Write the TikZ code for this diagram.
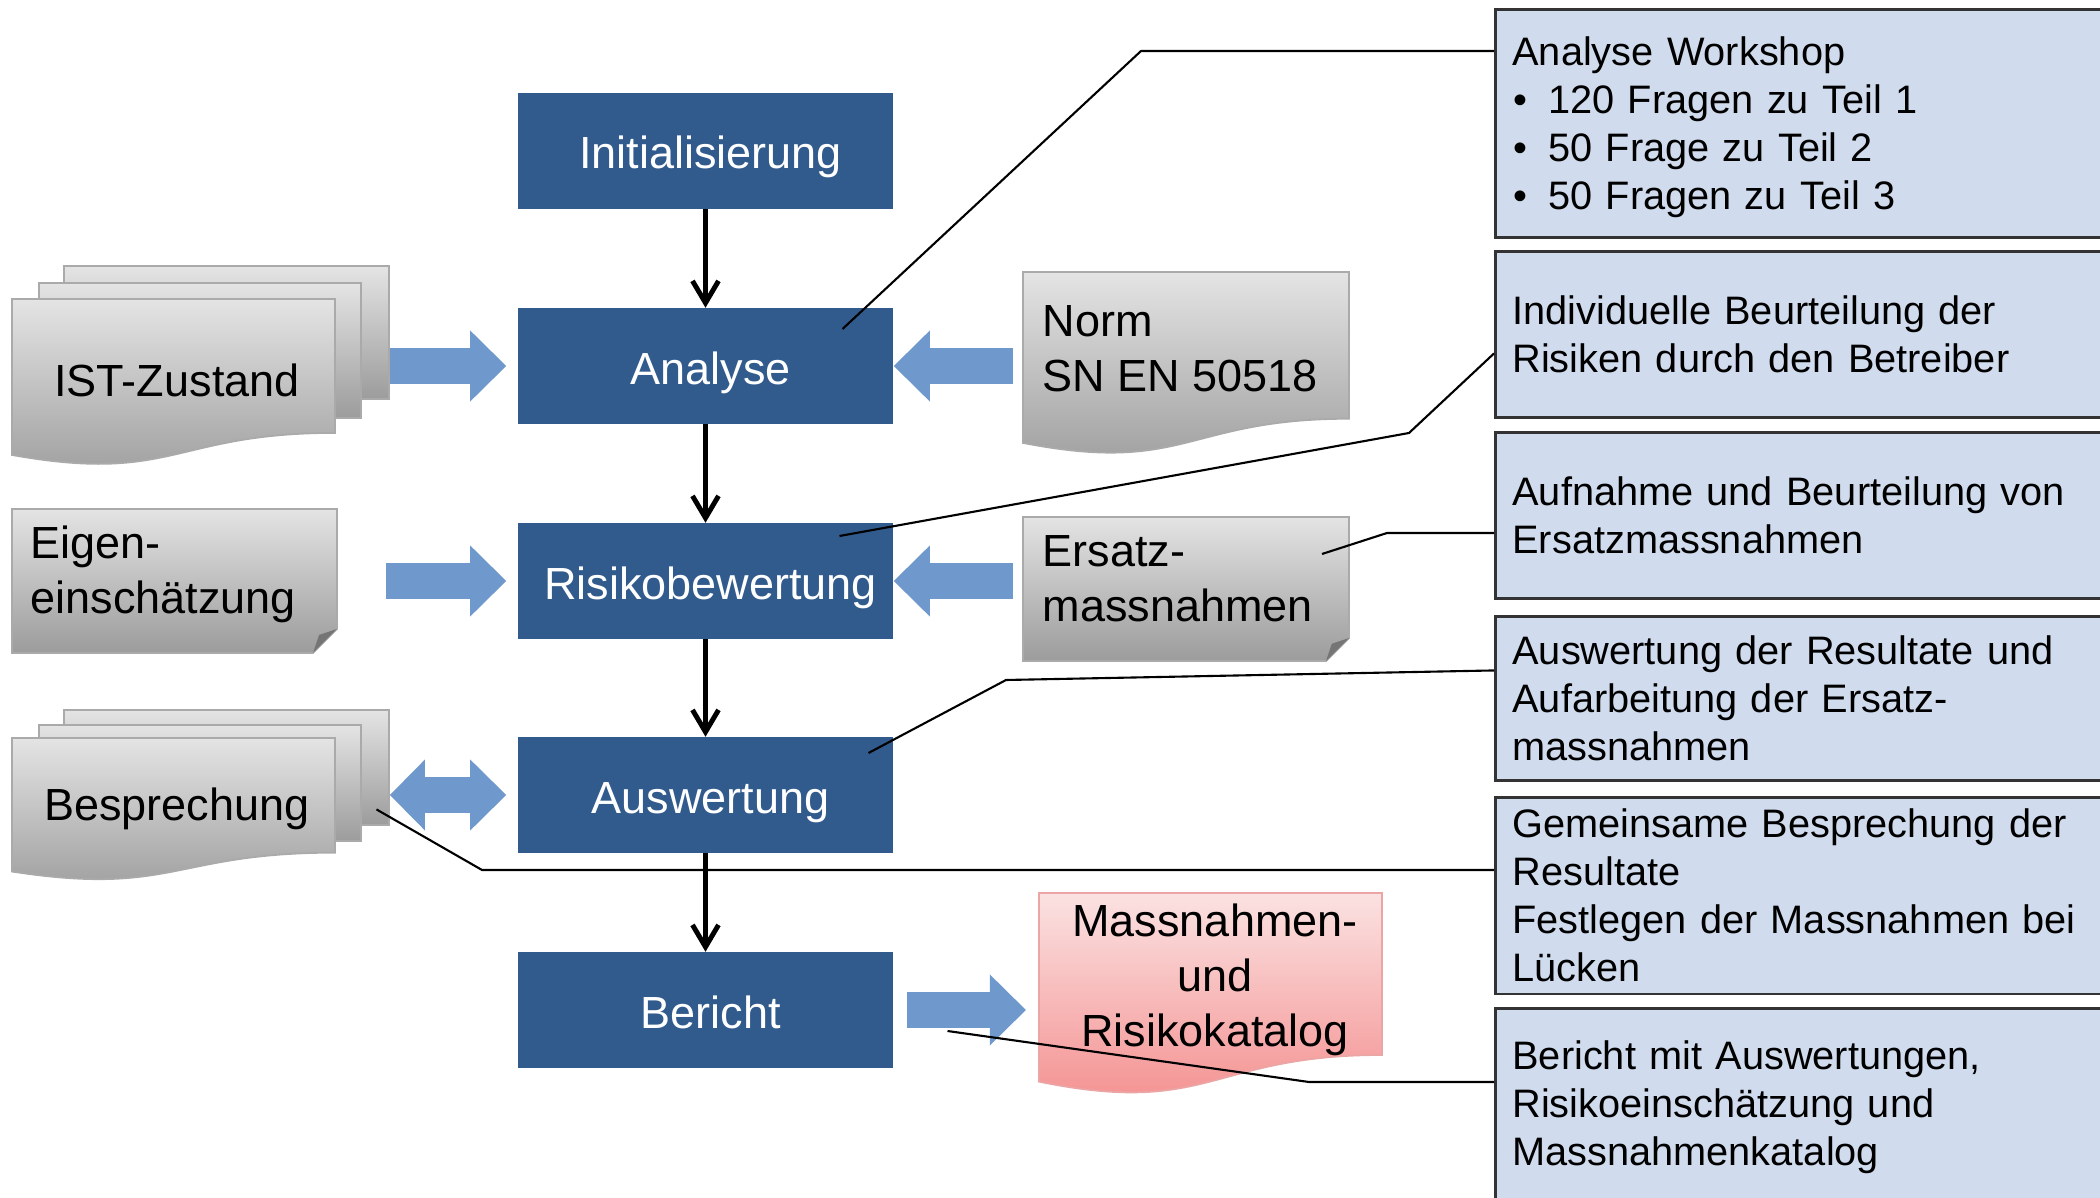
\documentclass[tikz,border=0pt]{standalone}
\usepackage{fontspec}
\setmainfont{Liberation Sans}
\usepackage{xcolor}
\usetikzlibrary{calc}
\usetikzlibrary{positioning,arrows.meta}
\definecolor{procblue}{RGB}{50,91,141}
\definecolor{arrowblue}{RGB}{111,153,204}
\definecolor{noteblue}{RGB}{208,220,237}
\definecolor{doctop}{RGB}{228,228,228}
\definecolor{docbot}{RGB}{156,156,156}
\definecolor{docline}{RGB}{170,170,170}
\definecolor{redtop}{RGB}{251,226,226}
\definecolor{redbot}{RGB}{244,140,140}
\definecolor{redline}{RGB}{236,165,165}
\newcommand{\bigfont}{\fontsize{12.8}{15.6}\selectfont}
\newcommand{\notefont}{\fontsize{11.3}{13.65}\selectfont}
% document shape: x, top, width, height, style
\newcommand{\docshape}[5]{%
\path[#5] (#1,#2) -- ({#1+#3},#2) -- ({#1+#3},{#2+0.802*#4})
  .. controls ({#1+0.5*#3},{#2+0.802*#4}) and ({#1+0.5*#3},{#2+1.1075*#4}) .. (#1,{#2+0.934*#4}) -- cycle;}
% folded corner: x, top, width, height, fold
\newcommand{\foldshape}[5]{%
\path[doc] (#1,#2) -- ({#1+#3},#2) -- ({#1+#3},{#2+#4-#5}) -- ({#1+#3-#5},{#2+#4}) -- (#1,{#2+#4}) -- cycle;
\fill[docbot!75!black] ({#1+#3},{#2+#4-#5}) -- ({#1+#3-#5},{#2+#4}) -- ({#1+#3-0.75*#5},{#2+#4-0.75*#5}) -- cycle;}
\tikzset{
proc/.style={fill=procblue, text=white, font=\bigfont, minimum width=3.75cm, minimum height=1.15cm, inner sep=0pt,
  text height=0.36cm, text depth=0pt, execute at begin node=\hspace{0.1cm}},
flow/.style={line width=1.4pt, -{Straight Barb[length=2.2mm,width=2.6mm]}},
bigarrow/.style={draw=arrowblue, line width=0.36cm, -{Triangle[length=0.36cm,width=0.71cm,line width=0pt]}},
bigdarrow/.style={draw=arrowblue, line width=0.36cm, {Triangle[length=0.35cm,width=0.71cm,line width=0pt]}-{Triangle[length=0.36cm,width=0.71cm,line width=0pt]}},
doc/.style={draw=docline, line width=0.5pt, top color=doctop, bottom color=docbot},
reddoc/.style={draw=redline, line width=0.5pt, top color=redtop, bottom color=redbot},
sheet/.style={doc, anchor=north west, inner sep=0pt},
doctext/.style={font=\bigfont, inner sep=0pt, align=left},
note/.style={draw=black!80, line width=0.8pt, fill=noteblue, anchor=north west, inner xsep=0.17cm, text width=5.9cm, align=left, font=\notefont},
callout/.style={line width=0.6pt}
}
\newcommand{\bul}{\makebox[0.36cm][l]{\hspace{0.01cm}\textbullet}}

\begin{document}
\begin{tikzpicture}[x=0.01cm,y=-0.01cm]
\useasboundingbox (0,0) rectangle (2100,1198);
\clip (0,0) rectangle (2100,1198);

% process chain
\node[proc] (init) at (705.5,151) {Initialisierung};
\node[proc] (ana) at (705.5,366) {Analyse};
\node[proc] (risk) at (705.5,581) {Risikobewertung};
\node[proc] (ausw) at (705.5,795) {Auswertung};
\node[proc] (ber) at (705.5,1010) {Bericht};

% inputs left
\node[sheet, minimum width=3.25cm, minimum height=1.33cm] (ist3) at (63,265) {};
\node[sheet, minimum width=3.22cm, minimum height=1.35cm] (ist2) at (38,282) {};
\docshape{12}{299}{323}{167}{doc}
\node[doctext] (ist) at (177,380) {IST-Zustand};
\foldshape{12}{509}{325}{144}{24}
\node[doctext, anchor=west] (eigen) at (30,574) {Eigen-\\einschätzung};
\node[sheet, minimum width=3.25cm, minimum height=1.15cm] (besp3) at (63,709) {};
\node[sheet, minimum width=3.22cm, minimum height=1.16cm] (besp2) at (38,724) {};
\docshape{12}{738}{323}{143}{doc}
\node[doctext] (besp) at (177,809) {Besprechung};

% inputs right
\docshape{1023}{272}{326}{183}{doc}
\node[doctext, anchor=west] (norm) at (1042,349) {Norm\\SN EN 50518};
\foldshape{1023}{517}{326}{144}{23}
\node[doctext, anchor=west] (ersatz) at (1042,579) {Ersatz-\\massnahmen};
\docshape{1039}{893}{343}{202}{reddoc}
\node[doctext, align=center] (mass) at (1215,980) {Massnahmen-\\und\\Risikokatalog};

% block arrows
\draw[bigarrow] (ist3.east |- ana.west) -- ([xshift=-0.11cm]ana.west);
\draw[bigarrow] ([xshift=-1.31cm]risk.west) -- ([xshift=-0.11cm]risk.west);
\draw[bigdarrow] (besp3.east |- ausw.west) -- ([xshift=-0.11cm]ausw.west);
\draw[bigarrow] ($(norm.west |- ana.east)+(-29,0)$) -- (ana.east);
\draw[bigarrow] ($(ersatz.west |- risk.east)+(-29,0)$) -- (risk.east);
\draw[bigarrow] ([xshift=0.13cm]ber.east) -- ([xshift=1.32cm]ber.east);

\foreach \a/\b in {init/ana,ana/risk,risk/ausw,ausw/ber}
\draw[flow] (\a) -- (\b);

% notes
\node[note, minimum height=2.28cm] (note1) at (1494,8) {\rule{0pt}{0.37cm}Analyse Workshop\\
\bul 120 Fragen zu Teil 1\\ \bul 50 Frage zu Teil 2\\ \bul 50 Fragen zu Teil 3};
\node[note, minimum height=1.66cm] (note2) at (1494,250) {Individuelle Beurteilung der\\Risiken durch den Betreiber};
\node[note, minimum height=1.66cm] (note3) at (1494,431) {Aufnahme und Beurteilung von\\Ersatzmassnahmen};
\node[note, minimum height=1.64cm] (note4) at (1494,615) {Auswertung der Resultate und\\Aufarbeitung der Ersatz-\\massnahmen};
\node[note, minimum height=1.95cm] (note5) at (1494,796) {Gemeinsame Besprechung der\\Resultate\\Festlegen der Massnahmen bei\\Lücken};
\node[note, minimum height=1.98cm] (note6) at (1494,1007) {Bericht mit Auswertungen,\\Risikoeinschätzung und\\Massnahmenkatalog};

% callouts
\coordinate (c1) at (1141,51);
\coordinate (c2) at (1409,433);
\coordinate (c3) at (1387,533);
\coordinate (c4) at (1006,680);
\coordinate (c5) at (482,870);
\coordinate (c6) at (1309,1082);
\draw[callout] ($(ana.center)+(137,-37)$) -- (c1) -- (c1 -| note1.west);
\draw[callout] ($(risk.center)+(134,-45)$) -- (c2) -- ($(note2.west)+(0,19)$);
\draw[callout] ($(ersatz.west)+(280,-25)$) -- (c3) -- (c3 -| note3.west);
\draw[callout] ($(ausw.center)+(163,-42)$) -- (c4) -- ($(note4.west)+(0,-28)$);
\draw[callout] ($(besp3.center)+(150,42)$) -- (c5) -- (c5 -| note5.west);
\draw[callout] ($(ber.center)+(242,21)$) -- (c6) -- (c6 -| note6.west);
\end{tikzpicture}
\end{document}
